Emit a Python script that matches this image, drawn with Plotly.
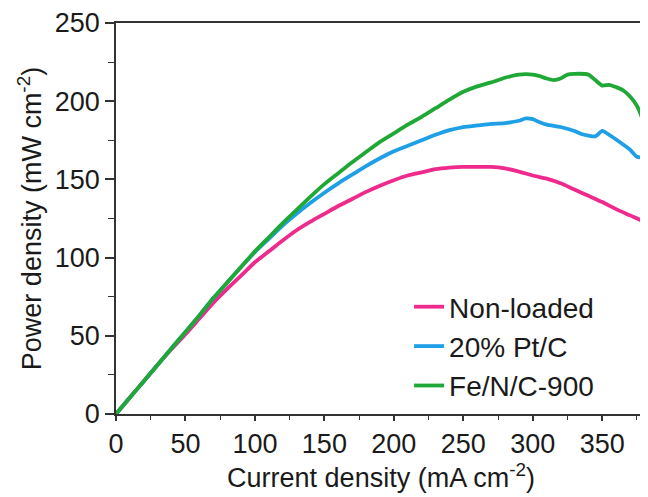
import plotly.graph_objects as go

# Current density (mA cm^-2)
x_nonloaded = [0, 10, 20, 30, 40, 50, 60, 70, 80, 90, 100, 110, 120, 130, 140, 150, 160, 170, 180, 190,
               200, 210, 220, 230, 240, 250, 260, 270, 280, 290, 300, 310, 320, 330, 340, 350, 360, 370, 380, 383]
y_nonloaded = [0, 10.5, 21, 31.5, 41.5, 51, 61, 71, 80, 88.5, 97, 104, 111, 117.5, 123, 128, 133, 137.5, 142, 146,
               149.5, 152.5, 154.5, 156.5, 157.5, 158, 158, 158, 157, 155, 152.5, 150.5, 147.5, 143.5, 139.5, 135.5, 131, 127, 123, 122]

x_ptc = [0, 10, 20, 30, 40, 50, 60, 70, 80, 90, 100, 110, 120, 130, 140, 150, 160, 170, 180, 190,
         200, 210, 220, 230, 240, 250, 260, 270, 280, 290, 295, 300, 305, 310, 320, 330, 335, 340, 345, 350, 355, 360, 370, 375, 383]
y_ptc = [0, 10.5, 21, 31.5, 42, 52.5, 63, 74, 84, 94, 103.5, 112, 120.5, 128, 135, 141.5, 147.5, 153, 158.5, 163.5,
         168, 171.5, 175, 178.5, 181.5, 183.5, 184.5, 185.5, 186, 187.5, 189, 188.5, 186.5, 185, 183.5, 181, 179, 178, 177.5, 181, 178.5, 175.5, 169, 164.5, 164]

x_fenc = [0, 10, 20, 30, 40, 50, 60, 70, 80, 90, 100, 110, 120, 130, 140, 150, 160, 170, 180, 190,
          200, 210, 220, 230, 240, 250, 260, 270, 280, 290, 300, 305, 310, 315, 320, 325, 330, 340, 345, 350, 355, 360, 365, 370, 375, 380, 383]
y_fenc = [0, 10.5, 21, 31.5, 42, 52.5, 63, 74, 84, 94, 104, 113, 122, 130.5, 139, 147, 154, 161, 167.5, 174,
          179.5, 185, 190, 195.5, 201, 206, 209.5, 212, 215, 217, 217, 216, 214.5, 213.5, 214.5, 217, 217.5, 217, 213.5, 210, 210.5, 209, 207, 203, 197, 186, 177]

names = ["Non-loaded", "20% Pt/C", "Fe/N/C-900"]
colors = ["#EE2A8C", "#1E9FE6", "#1FA835"]

x_ticks = [0, 50, 100, 150, 200, 250, 300, 350]
y_ticks = [0, 50, 100, 150, 200, 250]

fig = go.Figure()
for xs, ys, nm, c in zip([x_nonloaded, x_ptc, x_fenc], [y_nonloaded, y_ptc, y_fenc], names, colors):
    fig.add_trace(go.Scatter(x=xs, y=ys, mode="lines", name=nm,
                             line=dict(color=c, width=3.8, shape="spline", smoothing=0.6)))

FS = 27
font = dict(family="Liberation Sans, Arial, sans-serif", size=FS, color="#1a1a1a")

# page body has an 8px default margin, so the figure is sized to fit the window
fig.update_layout(
    width=640, height=489,
    margin=dict(l=108, r=2, t=15, b=83),
    paper_bgcolor="white", plot_bgcolor="white",
    font=font,
    showlegend=True,
    legend=dict(x=0.553, y=0.3376, xanchor="left", yanchor="top",
                bgcolor="rgba(0,0,0,0)", font=dict(size=28, color="#1a1a1a"),
                tracegroupgap=0, itemwidth=30),
)
fig.update_xaxes(
    range=[0, 381.5], tickvals=x_ticks, ticktext=[str(v) for v in x_ticks],
    showgrid=False, zeroline=False, automargin=False,
    showline=True, linecolor="#333333", linewidth=1.5, mirror=True,
    ticks="outside", ticklen=5, tickwidth=1.5, tickcolor="#333333",
    minor=dict(dtick=25, tick0=0, ticks="outside", ticklen=4, tickwidth=1.2, tickcolor="#333333"),
    title=dict(text="Current density (mA cm<sup>-2</sup>)", font=dict(size=FS), standoff=9),
    tickfont=dict(size=FS),
)
fig.update_yaxes(
    range=[0, 250], tickvals=y_ticks, ticktext=[str(v) for v in y_ticks],
    showgrid=False, zeroline=False, automargin=False,
    showline=True, linecolor="#333333", linewidth=1.5, mirror=True,
    ticks="outside", ticklen=9, tickwidth=1.5, tickcolor="#333333",
    minor=dict(dtick=25, tick0=0, ticks="outside", ticklen=6, tickwidth=1.2, tickcolor="#333333"),
    title=dict(text="Power density (mW cm<sup>-2</sup>)", font=dict(size=FS), standoff=5),
    tickfont=dict(size=FS),
)

fig.write_html("out.html")
